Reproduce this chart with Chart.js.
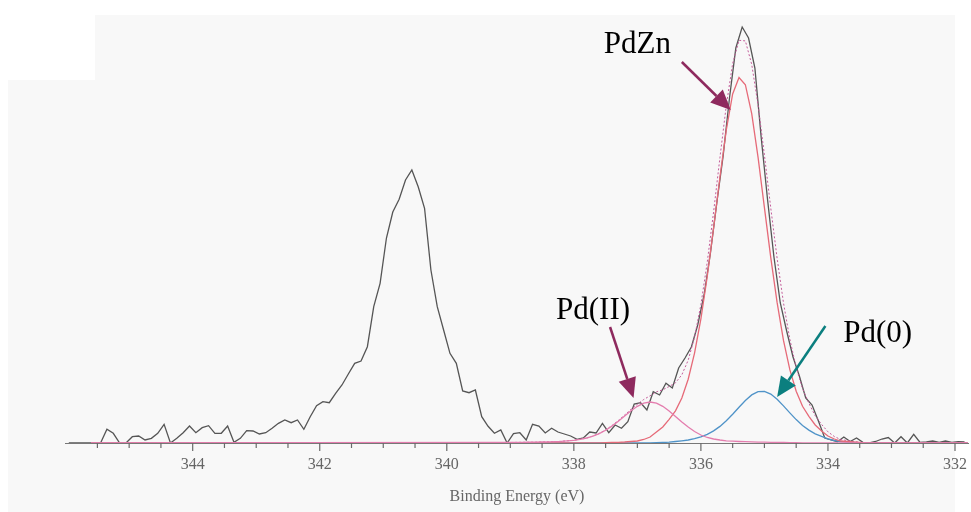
<!DOCTYPE html>
<html><head><meta charset="utf-8">
<script src="https://cdn.jsdelivr.net/npm/chart.js@4.4.1/dist/chart.umd.min.js"></script>
<style>html,body{margin:0;padding:0;background:#fff;}canvas{display:block;}</style>
</head><body>
<canvas id="c" width="971" height="512"></canvas>
<script>
// ---- Measured spectrum (binding energy, eV) ----
const dataEnergy = [
345.95,345.85,345.75,345.65,345.55,345.45,345.35,345.25,345.15,345.05,
344.95,344.85,344.75,344.65,344.55,344.45,344.35,344.25,344.15,344.05,
343.95,343.85,343.75,343.65,343.55,343.45,343.35,343.25,343.15,343.05,
342.95,342.85,342.75,342.65,342.55,342.45,342.35,342.25,342.15,342.05,
341.95,341.85,341.75,341.65,341.55,341.45,341.35,341.25,341.15,341.05,
340.95,340.85,340.75,340.65,340.55,340.45,340.35,340.25,340.15,340.05,
339.95,339.85,339.75,339.65,339.55,339.45,339.35,339.25,339.15,339.05,
338.95,338.85,338.75,338.65,338.55,338.45,338.35,338.25,338.15,338.05,
337.95,337.85,337.75,337.65,337.55,337.45,337.35,337.25,337.15,337.05,
336.95,336.85,336.75,336.65,336.55,336.45,336.35,336.25,336.15,336.05,
335.95,335.85,335.75,335.65,335.55,335.45,335.35,335.25,335.15,335.05,
334.95,334.85,334.75,334.65,334.55,334.45,334.35,334.25,334.15,334.05,
333.95,333.85,333.75,333.65,333.55,333.45,333.35,333.25,333.15,333.05,
332.95,332.85,332.75,332.65,332.55,332.45,332.35,332.25,332.15,332.05,
331.95,331.85];
const measured = [
0,0,0,0,0,0,13.7,9.7,0,0,
6.3,7,3,4.7,9.7,18.7,0,4.7,10.3,17,
10.3,15.3,17.3,9.7,9.7,17,0.7,4.7,12.3,12,
9,10.3,14.7,19.7,23,20.3,23,13.7,26.3,37.3,
41.3,40.3,49.7,58,69,79.7,82,96.3,136.3,159.7,
205,231,243.7,263,273,256.3,234.7,173,136.3,113,
89.7,79.7,52,50.3,53,26.3,16.7,9.7,13,0,
9.3,10.3,3,18.7,17,10,14.7,11,9,7,
3.7,5,11,10,19.7,10.3,18,14.7,21.3,39,
40.3,33,51.3,48,59.7,55,75,85,96,118,
148,190,240,287,345,395,416,405,375,305,
243,186,140,112,86,67,45,38,22,5,
3,1.3,6,1.5,5,0.7,0,1.5,4,5.5,
0,6.3,0,8.7,0.5,1,2,0.5,2,0.5,
1.3,1];

// ---- Fitted components ----
const fitEnergy = [345.6,
339.0,338.9,338.8,338.7,338.6,338.5,338.4,338.3,338.2,338.1,
338.0,337.9,337.8,337.7,337.6,337.5,337.4,337.3,337.2,337.1,
337.0,336.9,336.8,336.7,336.6,336.5,336.4,336.3,336.2,336.1,
336.0,335.9,335.8,335.7,335.6,335.5,335.4,335.3,335.2,335.1,
335.0,334.9,334.8,334.7,334.6,334.5,334.4,334.3,334.2,334.1,
334.0,333.9,333.8,333.7,333.6,333.5,333.4,
331.8];
const pdII = [0,
0.5,0.6,0.7,0.75,0.8,1.0,1.2,1.4,1.7,2.2,
2.7,3.7,5,6.9,9.4,12.8,16.9,21.8,27,32.2,
36.7,39.9,41,39.9,36.7,32,26.5,21,16,11.5,
8,5.5,4,3,2.2,1.8,1.5,1.3,1.1,0.9,
0.8,0.7,0.6,0.5,0.4,0.3,0.2,0.1,0,0,
0,0,0,0,0,0,0,
0];
const pdZn = [0,
0,0,0,0,0,0,0,0,0,0,
0,0,0,0,0.2,0.3,0.5,0.7,1,1.5,
2,3.5,6,11,16,23.7,32.2,45,63.8,89.9,
124.2,166.6,215.1,266,313.2,349,365.5,358.3,329.4,285.7,
235.4,185.4,140.3,102.6,73.3,51.7,36.7,26.7,18,12,
7,4,2,1.5,1,0.5,0,
0];
const pd0 = [0,
0,0,0,0,0,0,0,0,0,0,
0,0,0,0,0,0,0,0,0,0,
0,0.1,0.2,0.3,0.5,0.8,1.5,2.2,3,4.4,
6.2,8.6,12.1,16.6,22.2,28.7,35.7,42.5,48.1,51.4,
51.7,48.9,43.7,37.1,30.1,23.4,17.6,12.9,9.2,6.6,
4.2,2.5,1.5,1,0.5,0.2,0,
0];
const envelope = [0,
0.5,0.6,0.7,0.75,0.8,1.0,1.2,1.4,1.7,2.2,
2.7,3.7,5,6.9,9.6,13.1,17.4,22.5,28,33.7,
38.7,43.5,47.2,51.2,53.2,56.5,60.2,68.2,82.8,105.8,
138.4,180.7,231.2,285.6,337.6,379.5,402.7,402.1,378.6,338,
287.9,235,184.6,140.2,103.8,75.4,54.5,39.7,27.2,18.6,
11.2,6.5,3.5,2.5,1.5,0.7,0,
0];

// ---- Annotations (data units: energy, intensity) ----
const labelTexts = ['PdZn', 'Pd(II)', 'Pd(0)'];
const labelAt = [[337.53, 390], [338.28, 124], [333.76, 101]];
const arrowFrom = [[336.30, 381], [337.43, 116], [334.04, 117]];
const arrowTo = [[335.53, 333], [337.06, 45], [334.80, 46]];
const arrowColors = ['#8e2a5e', '#8e2a5e', '#0b7f7f'];

const pts = (xs, ys) => xs.map((x, i) => ({x: x, y: ys[i]}));
const serif = '"Liberation Serif", "Times New Roman", serif';

const bgPlugin = {
  id: 'bg',
  beforeDraw(chart) {
    const c = chart.ctx;
    c.save();
    c.fillStyle = '#ffffff';
    c.fillRect(0, 0, chart.width, chart.height);
    c.fillStyle = '#f8f8f8';
    c.fillRect(95, 15, 860, 497);
    c.fillRect(8, 80, 87, 432);
    c.restore();
  }
};

const tickPlugin = {
  id: 'minorMajorTicks',
  afterDraw(chart) {
    const s = chart.scales.x, c = chart.ctx, y0 = chart.chartArea.bottom;
    c.save();
    c.strokeStyle = '#6a6a6a';
    c.lineWidth = 1.2;
    s.ticks.forEach(t => {
      const x = s.getPixelForValue(t.value);
      const major = Math.abs(t.value % 2) < 1e-6;
      c.beginPath();
      c.moveTo(x, y0);
      c.lineTo(x, y0 + (major ? 8 : 5));
      c.stroke();
    });
    c.restore();
  }
};

const annotPlugin = {
  id: 'annot',
  afterDraw(chart) {
    const sx = chart.scales.x, sy = chart.scales.y, c = chart.ctx;
    c.save();
    c.fillStyle = '#000';
    c.font = '31px ' + serif;
    c.textBaseline = 'alphabetic';
    c.textAlign = 'left';
    labelTexts.forEach((t, i) => {
      c.fillText(t, sx.getPixelForValue(labelAt[i][0]), sy.getPixelForValue(labelAt[i][1]));
    });
    arrowFrom.forEach((f, i) => {
      const x1 = sx.getPixelForValue(f[0]), y1 = sy.getPixelForValue(f[1]);
      const x2 = sx.getPixelForValue(arrowTo[i][0]), y2 = sy.getPixelForValue(arrowTo[i][1]);
      const ang = Math.atan2(y2 - y1, x2 - x1);
      const hl = 20, hw = 9;
      const bx = x2 - hl * Math.cos(ang), by = y2 - hl * Math.sin(ang);
      c.strokeStyle = arrowColors[i];
      c.fillStyle = arrowColors[i];
      c.lineWidth = 2.5;
      c.beginPath(); c.moveTo(x1, y1); c.lineTo(bx, by); c.stroke();
      c.beginPath();
      c.moveTo(x2, y2);
      c.lineTo(bx + hw * Math.sin(ang), by - hw * Math.cos(ang));
      c.lineTo(bx - hw * Math.sin(ang), by + hw * Math.cos(ang));
      c.closePath(); c.fill();
    });
    c.restore();
  }
};

new Chart(document.getElementById('c'), {
  type: 'line',
  data: {
    datasets: [
      {label: 'Pd(II)', data: pts(fitEnergy, pdII), borderColor: '#e47dae', borderWidth: 1.3},
      {label: 'PdZn', data: pts(fitEnergy, pdZn), borderColor: '#e66a78', borderWidth: 1.3},
      {label: 'Pd(0)', data: pts(fitEnergy, pd0), borderColor: '#4f93c8', borderWidth: 1.3},
      {label: 'Envelope', data: pts(fitEnergy, envelope), borderColor: '#c45c9a', borderWidth: 1, borderDash: [2, 2]},
      {label: 'Measured', data: pts(dataEnergy, measured), borderColor: '#555555', borderWidth: 1.3}
    ]
  },
  options: {
    responsive: false,
    animation: false,
    parsing: false,
    elements: {point: {radius: 0}, line: {tension: 0, fill: false}},
    layout: {padding: {left: 65, top: 13, right: 0, bottom: 0}},
    plugins: {legend: {display: false}, tooltip: {enabled: false}},
    scales: {
      x: {
        type: 'linear', reverse: true, min: 331.78, max: 346.01,
        afterBuildTicks(s) { s.ticks = s.ticks.filter(t => t.value <= 345.6 && t.value >= 331.9); },
        afterFit(s) { s.height = 69; },
        ticks: {
          stepSize: 0.5, autoSkip: false, maxRotation: 0, includeBounds: false, padding: 4,
          color: '#666', font: {family: serif, size: 16},
          callback: (v) => (Math.abs(v % 2) < 1e-6 ? String(v) : '')
        },
        grid: {display: true, drawOnChartArea: false, drawTicks: true, tickLength: 8, color: 'rgba(0,0,0,0)'},
        border: {display: true, color: '#777', width: 1},
        title: {display: true, text: 'Binding Energy (eV)', color: '#666', font: {family: serif, size: 16}, padding: {top: 0, bottom: 6}}
      },
      y: {display: false, min: 0, max: 430}
    }
  },
  plugins: [bgPlugin, tickPlugin, annotPlugin]
});
</script>
</body></html>
